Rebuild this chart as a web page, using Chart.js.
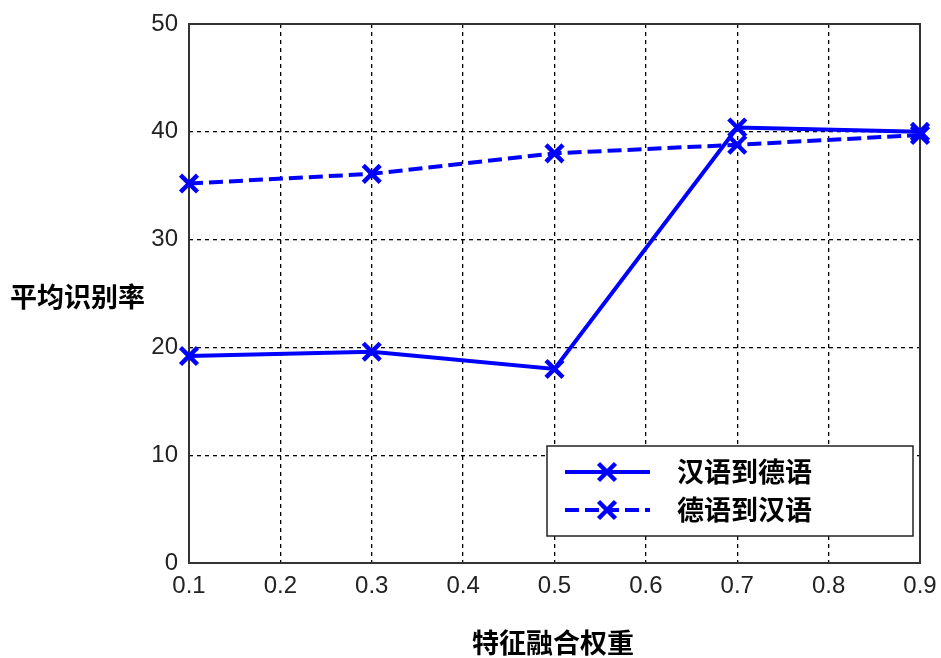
<!DOCTYPE html>
<html>
<head>
<meta charset="utf-8">
<script src="https://cdn.jsdelivr.net/npm/chart.js@4.4.1/dist/chart.umd.min.js"></script>
<style>
html,body{margin:0;padding:0;background:#fff;}
#wrap{width:941px;height:658px;}
</style>
</head>
<body>
<div id="wrap"><canvas id="c" width="941" height="658"></canvas></div>
<script>
const weights = [0.1, 0.3, 0.5, 0.7, 0.9];
const zhToDe = [19.2, 19.6, 18.0, 40.4, 40.0];
const deToZh = [35.2, 36.1, 38.0, 38.8, 39.7];
const seriesNames = ['汉语到德语', '德语到汉语'];
const xTitle = '特征融合权重';
const yTitle = '平均识别率';

const BLUE = '#0000ff';
const CJK = '"Noto Sans CJK SC", "Noto Sans", sans-serif';
const TICKFONT = '"Liberation Sans", Arial, sans-serif';

const framePlugin = {
  id: 'frame',
  beforeDatasetsDraw(chart) {
    const {ctx, chartArea: a} = chart;
    ctx.save();
    ctx.strokeStyle = '#333';
    ctx.lineWidth = 2;
    ctx.strokeRect(a.left, a.top, a.right - a.left, a.bottom - a.top);
    ctx.restore();
  },
  afterDraw(chart) {
    const {ctx} = chart;
    ctx.save();
    ctx.fillStyle = '#000';
    ctx.font = 'bold 27px ' + CJK;
    ctx.textBaseline = 'middle';
    ctx.textAlign = 'left';
    ctx.fillText(yTitle, 10, 297);
    ctx.textAlign = 'center';
    ctx.fillText(xTitle, 553, 643);

    const bx = 547, by = 446, bw = 366, bh = 90;
    ctx.fillStyle = '#fff';
    ctx.fillRect(bx, by, bw, bh);
    ctx.strokeStyle = '#222';
    ctx.lineWidth = 1.5;
    ctx.strokeRect(bx, by, bw, bh);
    const rows = [472, 510];
    chart.data.datasets.forEach((ds, i) => {
      const y = rows[i];
      ctx.save();
      ctx.strokeStyle = ds.borderColor;
      ctx.lineWidth = ds.borderWidth;
      ctx.setLineDash(ds.borderDash || []);
      ctx.beginPath();
      ctx.moveTo(565, y);
      ctx.lineTo(650, y);
      ctx.stroke();
      ctx.restore();
      ctx.save();
      ctx.strokeStyle = ds.pointBorderColor;
      ctx.fillStyle = ds.pointBorderColor;
      ctx.lineWidth = ds.pointBorderWidth;
      ctx.setLineDash([]);
      Chart.helpers.drawPoint(ctx, {
        pointStyle: 'crossRot', radius: ds.pointRadius, borderWidth: ds.pointBorderWidth, rotation: 0
      }, 607, y);
      ctx.restore();
      ctx.fillStyle = '#000';
      ctx.font = 'bold 27px ' + CJK;
      ctx.textAlign = 'left';
      ctx.textBaseline = 'middle';
      ctx.fillText(ds.label, 677, y);
    });
    ctx.restore();
  }
};

new Chart(document.getElementById('c'), {
  type: 'line',
  data: {
    datasets: [
      {
        label: seriesNames[0],
        data: weights.map((x, i) => ({x, y: zhToDe[i]})),
        borderColor: BLUE, backgroundColor: BLUE,
        borderWidth: 4,
        pointStyle: 'crossRot', pointRadius: 12, pointBorderWidth: 4.5,
        pointBorderColor: BLUE,
        tension: 0, clip: false
      },
      {
        label: seriesNames[1],
        data: weights.map((x, i) => ({x, y: deToZh[i]})),
        borderColor: BLUE, backgroundColor: BLUE,
        borderWidth: 4, borderDash: [14, 6],
        pointStyle: 'crossRot', pointRadius: 12, pointBorderWidth: 4.5,
        pointBorderColor: BLUE,
        tension: 0, clip: false
      }
    ]
  },
  options: {
    responsive: false,
    animation: false,
    devicePixelRatio: 1,
    layout: {padding: {left: 0, right: 21, top: 24, bottom: 0}},
    plugins: {legend: {display: false}, tooltip: {enabled: false}},
    scales: {
      x: {
        type: 'linear', min: 0.1, max: 0.9,
        afterFit(s) { s.height = 658 - 563; s.paddingLeft = 0; s.paddingRight = 0; },
        ticks: {
          stepSize: 0.1, padding: 9, color: '#222',
          font: {family: TICKFONT, size: 24},
          callback: v => v.toFixed(1)
        },
        grid: {color: '#000', lineWidth: 1.3, drawTicks: false},
        border: {display: false, dash: [4, 4]}
      },
      y: {
        min: 0, max: 50,
        afterFit(s) { s.width = 189; s.paddingTop = 0; s.paddingBottom = 0; },
        ticks: {
          stepSize: 10, padding: 11, color: '#222',
          font: {family: TICKFONT, size: 24}
        },
        grid: {color: '#000', lineWidth: 1.3, drawTicks: false},
        border: {display: false, dash: [4, 4]}
      }
    }
  },
  plugins: [framePlugin]
});
</script>
</body>
</html>
